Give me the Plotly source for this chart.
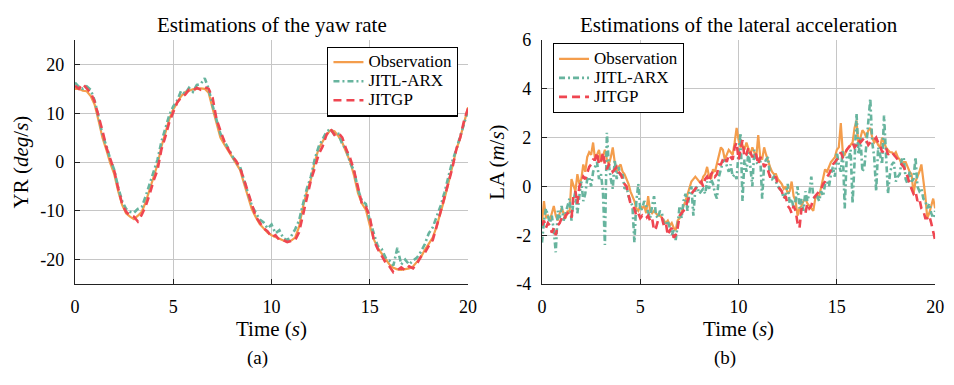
import plotly.graph_objects as go

# ---------------- data ----------------
t_yr = [i / 5 for i in range(101)]   # 0.2 s sampling
t_la = [i / 10 for i in range(201)]  # 0.1 s sampling

yr_obs = [15.0, 15.0, 14.6, 14.5, 13.5, 11.8, 8.5, 5.0, 2.5, -0.3,
          -2.5, -6.0, -8.8, -10.5, -11.2, -11.7, -11.0, -10.2, -8.2, -5.5,
          -3.2, -0.5, 3.2, 6.0, 8.8, 10.8, 12.3, 13.5, 14.3, 14.6,
          14.9, 15.0, 15.1, 15.0, 14.2, 11.0, 7.8, 5.0, 3.6, 2.3,
          0.8, -0.4, -1.6, -4.4, -7.2, -9.7, -11.3, -12.7, -13.6, -14.5,
          -15.0, -15.4, -15.8, -16.1, -16.3, -16.1, -15.5, -13.3, -9.2, -6.0,
          -3.6, 0.0, 2.8, 4.3, 5.6, 6.5, 6.3, 5.3, 4.0, 2.0,
          0.1, -2.8, -6.4, -8.5, -9.8, -13.0, -15.8, -17.6, -18.8, -20.0,
          -21.0, -21.7, -22.0, -22.1, -22.0, -21.8, -21.4, -20.5, -19.5, -18.0,
          -16.8, -15.5, -13.2, -10.6, -7.5, -4.3, -1.0, 2.5, 5.0, 8.3,
          11.2]
yr_arx = [16.3, 15.4, 15.0, 15.5, 14.8, 12.6, 9.3, 5.6, 3.3, 0.5,
          -1.6, -5.2, -8.0, -9.6, -10.2, -10.4, -9.6, -9.2, -7.0, -4.6,
          -2.0, 0.5, 4.2, 6.8, 9.6, 11.4, 12.6, 14.6, 14.0, 15.2,
          14.4, 15.8, 16.0, 17.2, 15.0, 11.6, 8.4, 5.8, 4.3, 2.8,
          1.4, -0.2, -1.0, -3.8, -6.4, -9.0, -10.4, -11.8, -12.4, -13.6,
          -12.8, -14.6, -14.0, -15.6, -16.0, -15.2, -13.8, -12.0, -8.6, -5.4,
          -3.0, 0.6, 3.2, 4.8, 6.2, 6.8, 5.6, 5.8, 3.6, 2.6,
          -0.2, -1.8, -5.6, -8.0, -8.6, -12.0, -14.4, -17.2, -17.8, -19.6,
          -20.2, -21.2, -17.6, -21.0, -20.0, -21.0, -20.2, -19.6, -18.4, -16.8,
          -14.6, -13.4, -11.2, -9.0, -6.2, -3.0, 0.2, 2.6, 5.4, 8.0,
          10.6]
yr_gp = [15.6, 15.0, 16.0, 15.0, 14.2, 12.4, 9.6, 6.4, 3.0, 0.8,
         -1.8, -5.4, -8.6, -10.2, -11.0, -11.2, -12.2, -10.8, -9.0, -6.6,
         -3.8, -1.6, 2.6, 5.2, 8.2, 10.2, 12.2, 13.2, 13.8, 14.8,
         14.6, 15.2, 14.8, 15.3, 15.0, 13.2, 8.8, 6.4, 4.2, 2.6,
         1.2, 0.2, -1.2, -3.6, -6.2, -9.0, -11.2, -12.4, -13.6, -14.2,
         -15.4, -15.0, -16.0, -16.0, -16.4, -16.2, -16.0, -14.4, -10.8, -7.0,
         -3.8, -1.2, 1.6, 3.2, 5.6, 6.8, 5.6, 6.0, 5.0, 2.6,
         0.8, -1.8, -5.2, -8.6, -9.2, -11.2, -16.0, -17.8, -19.2, -20.6,
         -21.4, -22.6, -22.2, -21.6, -22.2, -21.4, -21.8, -20.8, -19.4, -18.6,
         -17.2, -16.0, -13.2, -10.2, -7.0, -4.0, -1.2, 2.6, 5.0, 8.6,
         11.0]

la_obs = [-1.5, -0.6, -1.3, -1.2, -1.4, -1.1, -0.8, -1.2, -1.4, -1.1,
          -0.9, -1.1, -1.3, -1.0, -1.1, 0.3, 0.0, -0.2, 0.5, 0.1,
          0.3, 0.9, 0.6, 1.2, 1.4, 1.3, 1.8, 1.1, 1.3, 1.5,
          1.0, 1.3, 1.5, 1.1, 0.9, 1.2, 1.6, 1.0, 0.6, 0.8,
          0.9, 0.6, 0.5, 0.3, 0.1, -0.2, -0.4, -0.6, -0.9, -1.0,
          -0.8, -0.9, -0.8, -1.1, -0.4, -1.0, -1.1, -1.0, -1.1, -1.2,
          -1.2, -1.3, -1.4, -1.5, -1.4, -1.6, -1.5, -1.7, -1.8, -1.4,
          -1.3, -1.0, -0.8, -0.6, -0.3, 0.0, 0.2, 0.3, 0.4, 0.3,
          0.2, 0.1, 0.4, 0.5, 0.8, 0.4, 0.3, 0.7, 0.6, 0.9,
          1.2, 1.6, 1.5, 1.1, 1.3, 1.5, 1.4, 1.3, 1.8, 2.4,
          1.9, 1.6, 1.7, 1.5, 1.8, 1.5, 1.3, 1.6, 1.4, 1.2,
          2.1, 1.2, 1.1, 1.6, 1.3, 1.0, 0.8, 0.6, 0.5, 0.5,
          0.3, 0.2, 0.1, -0.1, 0.0, -0.3, -0.2, 0.2, -0.4, -0.6,
          -1.2, -0.9, -0.8, -0.6, -0.5, -0.7, -0.8, -0.9, -1.0, -0.5,
          -0.4, -0.4, 0.0, 0.4, 0.7, 0.6, 0.8, 1.0, 1.1, 1.2,
          1.5, 1.6, 2.6, 1.4, 1.3, 1.5, 1.6, 1.7, 1.8, 2.4,
          2.7, 1.7, 2.0, 2.3, 2.2, 2.0, 2.3, 2.4, 2.0, 1.8,
          1.9, 1.7, 1.6, 2.0, 1.8, 1.6, 1.5, 1.4, 1.4, 1.3,
          1.4, 1.2, 1.1, 0.9, 1.0, 1.0, 0.8, 0.6, 0.5, -0.3,
          0.2, 0.4, 0.6, 0.9, 0.3, -0.4, -1.3, -1.1, -0.8, -0.5,
          -0.9]
la_arx = [-2.3, -1.4, -0.9, -1.2, -1.5, -1.2, -1.8, -2.7, -1.0, -1.3,
          -0.8, -1.4, -1.1, -0.9, -0.5, -1.4, -0.6, -0.2, -1.1, -0.4,
          0.2, -0.6, -0.3, 0.3, 0.4, 0.0, 0.6, 0.8, 1.0, 0.3,
          0.5, -0.2, -2.4, 2.2, 0.9, 0.3, -0.1, 1.1, 0.3, 0.8,
          0.4, 0.5, -0.1, 0.0, -0.4, -0.6, -0.8, -2.3, -0.6, 0.1,
          -1.0, -0.9, -0.6, -0.8, -1.1, -1.3, -0.8, -0.4, -1.2, -1.3,
          -1.0, -1.1, -1.5, -1.6, -1.4, -1.7, -2.0, -1.8, -2.2, -1.6,
          -0.8, -1.3, -0.6, -0.3, -1.0, -0.2, 0.0, -1.2, -0.1, 0.0,
          -0.3, -0.2, -0.1, -0.3, 0.2, -0.1, 0.3, 0.1, -0.3, -0.5,
          0.4, 0.7, 1.0, 1.1, 0.8, 0.6, 0.9, 0.4, 0.5, 0.3,
          1.4, 2.2, -0.6, 1.1, 0.6, 1.4, 0.8, 0.0, 1.5, 1.0,
          0.9, 1.2, -0.5, 0.9, 1.1, 1.2, 0.4, 0.3, 0.4, 0.2,
          0.0, -0.1, -0.2, -0.5, -0.3, 0.1, -0.7, -0.5, -0.9, -0.6,
          0.0, -0.9, -0.5, -1.0, -0.2, -0.6, -0.3, 0.4, -0.4, -0.5,
          -0.4, -0.6, -0.2, -0.4, 0.1, 0.2, 0.0, 0.5, 0.8, 0.4,
          1.4, 0.9, 0.6, 1.5, -0.9, 1.2, 1.1, 1.5, -0.7, 1.0,
          3.0, 1.3, 2.0, 0.6, 0.8, 1.7, 2.5, 3.6, 1.8, 1.2,
          -0.2, 1.6, 1.3, 0.9, 2.9, 1.0, -0.3, 0.5, 0.9, 1.0,
          0.2, 0.4, 0.5, 1.1, 1.2, 0.3, 0.1, 0.6, 0.2, 0.3,
          1.2, 0.0, -0.2, -0.1, -0.5, -0.6, -0.9, -0.7, -1.1, -1.3,
          -1.0]
la_gp = [-1.6, -1.4, -1.7, -1.5, -1.6, -1.9, -1.7, -2.0, -1.6, -1.5,
         -1.3, -1.4, -1.2, -1.1, -1.2, -1.3, -0.4, -0.2, -0.7, 0.0,
         0.2, 0.4, 0.3, 0.6, 0.8, 0.9, 1.1, 1.1, 1.4, 0.9,
         1.0, 1.4, 0.9, 0.7, 0.9, 0.8, 0.6, 0.7, 0.8, 0.6,
         0.5, 0.3, 0.1, 0.0, -0.4, -0.7, -0.8, -0.9, -1.2, -1.1,
         -1.3, -1.2, -1.3, -1.3, -1.2, -1.4, -1.3, -1.8, -1.7, -1.4,
         -1.3, -1.3, -1.6, -1.5, -2.0, -1.8, -1.7, -2.1, -2.0, -1.7,
         -1.2, -1.1, -1.0, -0.9, -0.6, -0.4, -0.3, -0.2, -0.1, 0.0,
         0.1, 0.2, 0.0, 0.3, 0.4, 0.2, 0.5, 0.6, 0.4, 0.5,
         0.9, 0.9, 1.1, 1.2, 1.0, 1.3, 1.2, 1.1, 1.6, 1.8,
         1.1, 1.5, 1.9, 1.2, 1.3, 1.6, 1.4, 1.2, 1.4, 1.3,
         0.9, 1.2, 1.1, 0.8, 0.9, 0.6, 0.4, 0.4, 0.3, 0.4,
         0.0, -0.1, -0.2, -0.5, -0.4, -0.8, -0.9, -1.1, -0.8, -1.0,
         -1.5, -1.7, -0.9, -1.0, -1.1, -0.7, -0.9, -0.8, -0.5, -0.4,
         -0.3, -0.2, -0.1, 0.1, 0.2, 0.4, 0.5, 0.7, 0.9, 1.0,
         1.1, 1.2, 1.4, 1.2, 1.3, 1.5, 1.6, 1.7, 1.8, 1.6,
         1.7, 1.9, 1.8, 1.9, 2.0, 1.9, 1.7, 1.8, 1.9, 1.9,
         2.0, 1.8, 1.7, 1.4, 1.5, 1.6, 1.3, 1.4, 1.4, 1.3,
         1.2, 1.1, 1.0, 0.9, 0.8, 0.6, 0.4, 0.1, -0.1, -0.3,
         -0.2, -0.6, -0.5, -0.9, -1.0, -1.3, -1.3, -1.2, -1.5, -1.8,
         -2.2]

x_ticks = [0, 5, 10, 15, 20]
x_ticktext = ["0", "5", "10", "15", "20"]
yr_ticks = [-20, -10, 0, 10, 20]
yr_ticktext = ["-20", "-10", "0", "10", "20"]
la_ticks = [-4, -2, 0, 2, 4, 6]
la_ticktext = ["-4", "-2", "0", "2", "4", "6"]

series_names = ["Observation", "JITL-ARX", "JITGP"]

# ---------------- styles ----------------
W, H = 954, 385
FONT = "Liberation Serif"
C_OBS = "#F49D4C"
C_ARX = "#67B49E"
C_GP = "#EF4651"
styles = [
    dict(color=C_OBS, width=2.2, dash="solid"),
    dict(color=C_ARX, width=2.6, dash="6px,3px,2px,3px"),
    dict(color=C_GP, width=2.6, dash="8px,5px"),
]

def legend_label(name):
    # larger glyphs than the legend's row spacing font, for compact rows
    return f"<span style='font-size:17px'>{name}</span>"

fig = go.Figure()
for name, y, st in zip(series_names, [yr_obs, yr_arx, yr_gp], styles):
    fig.add_trace(go.Scatter(x=t_yr, y=y, mode="lines", name=legend_label(name), line=st,
                             xaxis="x", yaxis="y", legend="legend"))
for name, y, st in zip(series_names, [la_obs, la_arx, la_gp], styles):
    fig.add_trace(go.Scatter(x=t_la, y=y, mode="lines", name=legend_label(name), line=st,
                             xaxis="x2", yaxis="y2", legend="legend2"))

def px_x(p):
    return p / W

def px_y(p):
    return 1 - p / H

TITLE_SIZE = 21
ydom = [px_y(289), px_y(31.7)]
axis_common = dict(
    showline=True, linecolor="#222222", linewidth=1.3, mirror=False,
    ticks="inside", ticklen=5, tickcolor="#222222", tickwidth=1,
    showgrid=True, gridcolor="#c6c6c6", gridwidth=1, zeroline=False,
    tickfont=dict(family=FONT, size=18, color="black"),
    ticklabelstandoff=6,
)

def ax_title(text):
    return dict(text=text, font=dict(family=FONT, size=TITLE_SIZE, color="black"), standoff=5)

legend_common = dict(
    bgcolor="white", bordercolor="black", borderwidth=1.2,
    font=dict(family=FONT, size=12, color="black"),
    tracegroupgap=0, itemwidth=30,
)

fig.update_layout(
    width=W, height=H,
    margin=dict(l=0, r=0, t=0, b=0),
    paper_bgcolor="white", plot_bgcolor="white",
    font=dict(family=FONT, size=18, color="black"),
    xaxis=dict(domain=[px_x(71), px_x(470)], range=[0, 20], anchor="y",
               tickvals=x_ticks, ticktext=x_ticktext,
               title=ax_title("Time (<i>s</i>)"), **axis_common),
    yaxis=dict(domain=ydom, range=[-25, 25], anchor="x",
               tickvals=yr_ticks, ticktext=yr_ticktext,
               title=ax_title("YR (<i>deg</i>/<i>s</i>)"), **axis_common),
    xaxis2=dict(domain=[px_x(545), px_x(944)], range=[0, 20], anchor="y2",
                tickvals=x_ticks, ticktext=x_ticktext,
                title=ax_title("Time (<i>s</i>)"), **axis_common),
    yaxis2=dict(domain=ydom, range=[-4, 6], anchor="x2",
                tickvals=la_ticks, ticktext=la_ticktext,
                title=ax_title("LA (<i>m</i>/<i>s</i>)"), **axis_common),
    legend=dict(x=px_x(460), y=px_y(38.5), xanchor="right", yanchor="top", **legend_common),
    legend2=dict(x=px_x(556), y=px_y(35), xanchor="left", yanchor="top", **legend_common),
    showlegend=True,
)

fig.add_annotation(text="Estimations of the yaw rate", x=px_x(270.5), y=px_y(16),
                   xref="paper", yref="paper", showarrow=False,
                   font=dict(family=FONT, size=TITLE_SIZE), xanchor="center", yanchor="middle")
fig.add_annotation(text="Estimations of the lateral acceleration", x=px_x(744.5), y=px_y(16),
                   xref="paper", yref="paper", showarrow=False,
                   font=dict(family=FONT, size=TITLE_SIZE), xanchor="center", yanchor="middle")
fig.add_annotation(text="(a)", x=px_x(256.5), y=px_y(367),
                   xref="paper", yref="paper", showarrow=False,
                   font=dict(family=FONT, size=19), xanchor="center", yanchor="middle")
fig.add_annotation(text="(b)", x=px_x(730.5), y=px_y(367),
                   xref="paper", yref="paper", showarrow=False,
                   font=dict(family=FONT, size=19), xanchor="center", yanchor="middle")

fig.write_html("out.html")
